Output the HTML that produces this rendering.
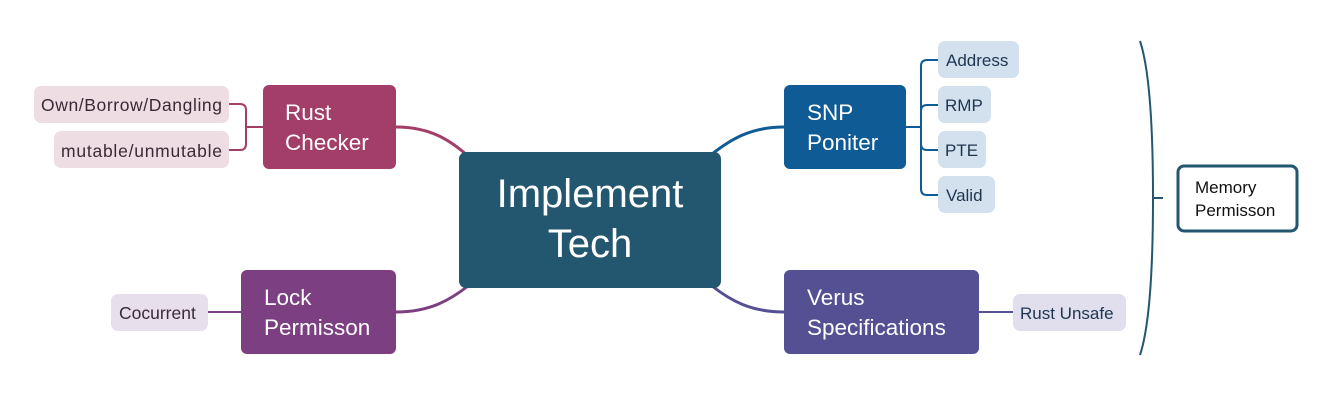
<!DOCTYPE html>
<html><head><meta charset="utf-8"><style>
html,body{margin:0;padding:0;background:#fff;}
svg{display:block;font-family:"Liberation Sans",sans-serif;}
</style></head><body>
<svg width="1333" height="400" viewBox="0 0 1333 400">
<g fill="none" stroke-width="3">
<path d="M468,156 C450,140 430,127 396,127" stroke="#A23E68"/>
<path d="M468,286 C450,300 430,312 396,312" stroke="#7B3F82"/>
<path d="M712,154 C730,140 750,127 784,127" stroke="#0E5B96"/>
<path d="M712,286 C730,300 750,312 784,312" stroke="#554F94"/>
</g>
<g fill="none" stroke-width="2">
<path d="M263,127 H246 M229,104 H240 Q246,104 246,110 V144 Q246,150 240,150 H229" stroke="#A23E68"/>
<path d="M241,312 H208" stroke="#7B3F82"/>
<path d="M906,127 H921 M938,60 H927 Q921,60 921,66 V189 Q921,195 927,195 H938 M921,111 Q921,105 927,105 H938 M921,144 Q921,150 927,150 H938" stroke="#0E5B96"/>
<path d="M979,312 H1013" stroke="#554F94"/>
<path d="M1140,41 Q1153,80 1153,198 Q1153,316 1140,355 M1153,198 H1163" stroke="#235670"/>
</g>
<rect x="459" y="152" width="262" height="136" rx="7" fill="#23566F"/>
<text x="590" y="207" font-size="40" fill="#fff" text-anchor="middle">Implement</text>
<text x="590" y="257" font-size="40" fill="#fff" text-anchor="middle">Tech</text>
<rect x="263" y="85" width="133" height="84" rx="6" fill="#A23E68"/>
<text font-size="22.5" fill="#fff"><tspan x="285" y="120">Rust</tspan><tspan x="285" y="150">Checker</tspan></text>
<rect x="241" y="270" width="155" height="84" rx="6" fill="#7B3F82"/>
<text font-size="22.5" fill="#fff"><tspan x="264" y="305">Lock</tspan><tspan x="264" y="335">Permisson</tspan></text>
<rect x="784" y="85" width="122" height="84" rx="6" fill="#0E5B96"/>
<text font-size="22.5" fill="#fff"><tspan x="807" y="120">SNP</tspan><tspan x="807" y="150">Poniter</tspan></text>
<rect x="784" y="270" width="195" height="84" rx="6" fill="#554F94"/>
<text font-size="22.5" fill="#fff"><tspan x="807" y="305">Verus</tspan><tspan x="807" y="335">Specifications</tspan></text>
<g font-size="17.5" fill="#3a2a35">
<rect x="34" y="86" width="195" height="37" rx="7" fill="#EFDDE4"/><text x="41" y="111" textLength="181">Own/Borrow/Dangling</text>
<rect x="54" y="131" width="175" height="37" rx="7" fill="#EFDDE4"/><text x="61" y="157" textLength="161">mutable/unmutable</text>
<rect x="111" y="294" width="97" height="37" rx="7" fill="#E8DFEC"/><text x="119" y="319">Cocurrent</text>
</g>
<g font-size="17" fill="#1e3550">
<rect x="938" y="41" width="81" height="37" rx="7" fill="#D3E1EE"/><text x="946" y="66">Address</text>
<rect x="938" y="86" width="53" height="37" rx="7" fill="#D3E1EE"/><text x="945" y="111">RMP</text>
<rect x="938" y="131" width="48" height="37" rx="7" fill="#D3E1EE"/><text x="945" y="156">PTE</text>
<rect x="938" y="176" width="57" height="37" rx="7" fill="#D3E1EE"/><text x="946" y="201">Valid</text>
<rect x="1013" y="294" width="113" height="37" rx="7" fill="#E1DFEE"/><text x="1020" y="319">Rust Unsafe</text>
</g>
<rect x="1178" y="166" width="119" height="65" rx="6" fill="#fff" stroke="#235670" stroke-width="3"/>
<text font-size="17" fill="#111"><tspan x="1195" y="193">Memory</tspan><tspan x="1195" y="216">Permisson</tspan></text>
</svg>
</body></html>
